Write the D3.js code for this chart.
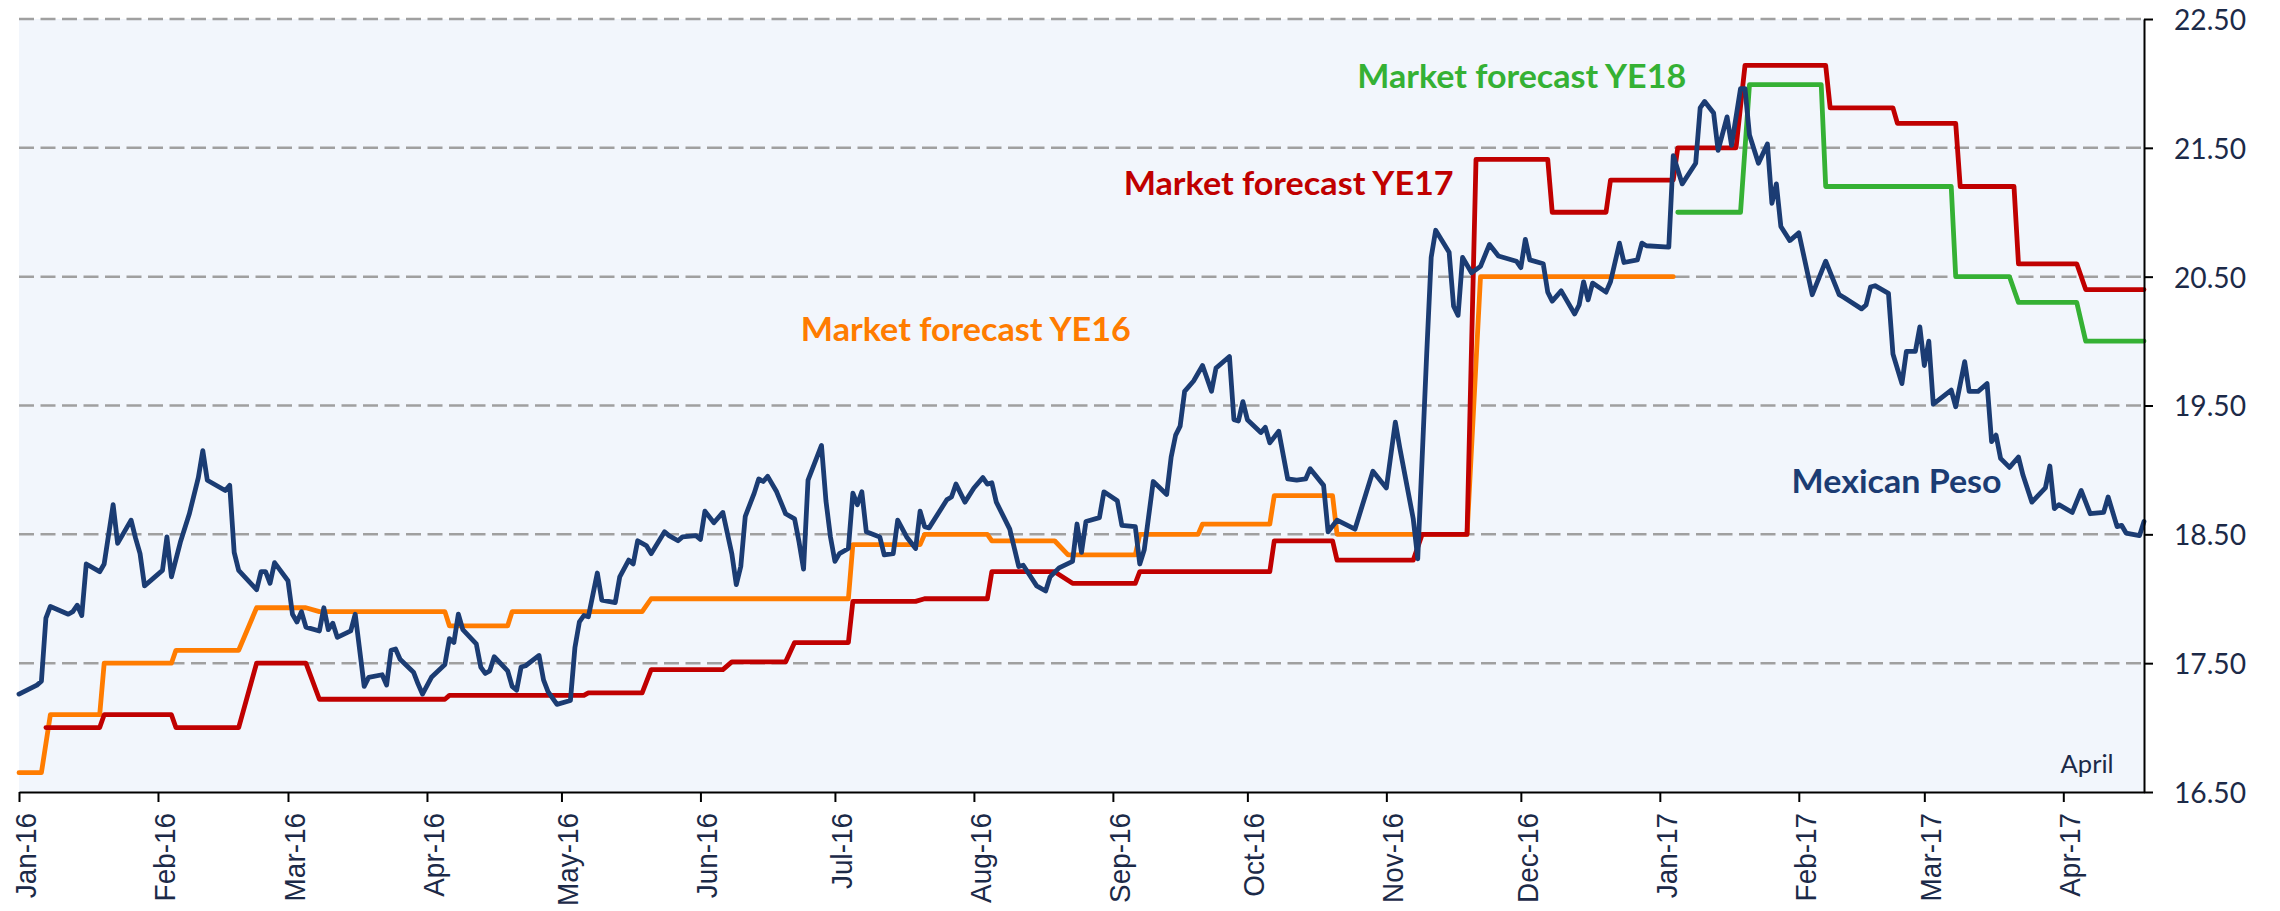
<!DOCTYPE html>
<html lang="en">
<head>
<meta charset="utf-8">
<title>Mexican Peso and market forecasts</title>
<script src="https://cdn.jsdelivr.net/npm/d3@7"></script>
<style>
  body { margin: 0; background: #fff; }
  svg { display: block; }
</style>
</head>
<body>
<script>
// every series is [day since 1 Jan 2016, MXN per USD]
var peso = [[0,17.26],[4,17.33],[5,17.36],[6,17.85],[7,17.94],[11,17.88],[12,17.90],[13,17.95],[14,17.87],[15,18.27],[18,18.21],[19,18.27],[21,18.73],[22,18.43],[25,18.61],[26,18.47],[27,18.35],[28,18.10],[32,18.22],[33,18.48],[34,18.17],[36,18.44],[38,18.66],[40,18.94],[41,19.15],[42,18.92],[46,18.84],[47,18.88],[48,18.36],[49,18.22],[53,18.07],[54,18.21],[55,18.21],[56,18.12],[57,18.28],[60,18.14],[61,17.88],[62,17.82],[63,17.90],[64,17.78],[67,17.75],[68,17.93],[69,17.76],[70,17.81],[71,17.70],[74,17.75],[75,17.88],[77,17.32],[78,17.39],[81,17.41],[82,17.33],[83,17.60],[84,17.61],[85,17.53],[88,17.43],[89,17.34],[90,17.26],[92,17.39],[95,17.49],[96,17.69],[97,17.66],[98,17.88],[99,17.76],[102,17.65],[103,17.47],[104,17.42],[105,17.44],[106,17.55],[109,17.44],[110,17.32],[111,17.29],[112,17.47],[113,17.48],[116,17.56],[117,17.37],[118,17.28],[120,17.18],[123,17.21],[124,17.62],[125,17.82],[126,17.87],[127,17.86],[129,18.20],[130,17.99],[133,17.97],[134,18.17],[136,18.30],[137,18.27],[138,18.45],[140,18.41],[141,18.35],[144,18.52],[145,18.49],[147,18.45],[148,18.48],[151,18.49],[152,18.46],[153,18.68],[155,18.59],[157,18.67],[159,18.35],[160,18.11],[161,18.25],[162,18.64],[164,18.82],[165,18.93],[166,18.91],[167,18.95],[169,18.83],[171,18.66],[173,18.62],[174,18.44],[175,18.23],[176,18.92],[179,19.19],[180,18.76],[181,18.48],[182,18.29],[183,18.35],[185,18.39],[186,18.82],[187,18.73],[188,18.83],[189,18.52],[192,18.48],[193,18.34],[195,18.35],[196,18.61],[198,18.48],[200,18.39],[201,18.68],[202,18.56],[203,18.55],[207,18.77],[208,18.79],[209,18.89],[211,18.75],[213,18.86],[215,18.94],[216,18.89],[217,18.90],[218,18.75],[221,18.54],[223,18.25],[224,18.26],[227,18.10],[229,18.06],[230,18.17],[232,18.24],[235,18.29],[236,18.58],[237,18.36],[238,18.60],[241,18.63],[242,18.83],[245,18.76],[246,18.57],[249,18.56],[250,18.27],[251,18.38],[253,18.91],[256,18.81],[257,19.10],[258,19.27],[259,19.34],[260,19.61],[262,19.69],[264,19.81],[266,19.61],[267,19.79],[270,19.88],[271,19.39],[272,19.38],[273,19.53],[274,19.39],[277,19.29],[278,19.33],[279,19.21],[281,19.30],[283,18.93],[285,18.92],[287,18.93],[288,19.01],[291,18.88],[292,18.52],[294,18.61],[298,18.54],[302,18.99],[305,18.86],[307,19.37],[308,19.17],[311,18.62],[312,18.31],[314,19.90],[315,20.65],[316,20.86],[319,20.69],[320,20.27],[321,20.20],[322,20.65],[324,20.53],[326,20.58],[328,20.75],[330,20.66],[334,20.62],[335,20.57],[336,20.79],[337,20.63],[340,20.60],[341,20.38],[342,20.31],[344,20.39],[347,20.21],[348,20.28],[349,20.46],[350,20.32],[351,20.45],[354,20.38],[355,20.46],[357,20.76],[358,20.61],[361,20.63],[362,20.76],[363,20.74],[368,20.73],[369,21.44],[371,21.22],[374,21.38],[375,21.81],[376,21.86],[378,21.77],[379,21.48],[381,21.74],[382,21.52],[384,21.96],[385,21.96],[386,21.60],[388,21.38],[390,21.53],[391,21.07],[392,21.22],[393,20.89],[395,20.78],[397,20.84],[400,20.36],[403,20.62],[406,20.36],[407,20.34],[411,20.25],[412,20.28],[413,20.42],[414,20.43],[417,20.37],[418,19.90],[420,19.67],[421,19.92],[423,19.92],[424,20.11],[425,19.81],[426,20.00],[427,19.51],[431,19.62],[432,19.49],[434,19.84],[435,19.61],[437,19.61],[439,19.67],[440,19.22],[441,19.27],[442,19.09],[444,19.02],[446,19.10],[447,18.96],[449,18.75],[452,18.86],[453,19.03],[454,18.70],[455,18.73],[458,18.67],[460,18.84],[462,18.66],[465,18.67],[466,18.79],[468,18.56],[469,18.57],[470,18.51],[473,18.49],[474,18.60]];

var forecastYE16 = [[0,16.65],[5,16.65],[7,17.10],[18,17.10],[19,17.50],[34,17.50],[35,17.60],[49,17.60],[53,17.93],[64,17.93],[67,17.90],[95,17.90],[96,17.79],[109,17.79],[110,17.90],[139,17.90],[141,18.00],[185,18.00],[186,18.42],[201,18.42],[202,18.50],[216,18.50],[217,18.45],[231,18.45],[234,18.34],[249,18.34],[250,18.50],[263,18.50],[264,18.58],[279,18.58],[280,18.80],[293,18.80],[294,18.50],[323,18.50],[326,20.50],[369,20.50]];

var forecastYE17 = [[6,17.00],[18,17.00],[19,17.10],[34,17.10],[35,17.00],[49,17.00],[53,17.50],[64,17.50],[67,17.22],[95,17.22],[96,17.25],[126,17.25],[127,17.27],[139,17.27],[141,17.45],[157,17.45],[159,17.51],[171,17.51],[173,17.66],[185,17.66],[186,17.98],[200,17.98],[202,18.00],[216,18.00],[217,18.21],[231,18.21],[235,18.12],[249,18.12],[250,18.21],[279,18.21],[280,18.45],[293,18.45],[294,18.30],[311,18.30],[313,18.50],[323,18.50],[325,21.41],[341,21.41],[342,21.00],[354,21.00],[355,21.25],[369,21.25],[370,21.50],[383,21.50],[385,22.14],[403,22.14],[404,21.81],[418,21.81],[419,21.69],[432,21.69],[433,21.20],[445,21.20],[446,20.60],[459,20.60],[461,20.40],[474,20.40]];

var forecastYE18 = [[370,21.00],[384,21.00],[386,21.99],[402,21.99],[403,21.20],[431,21.20],[432,20.50],[444,20.50],[446,20.30],[459,20.30],[461,20.00],[474,20.00]];

var yTicks = [16.5, 17.5, 18.5, 19.5, 20.5, 21.5, 22.5];
var lastDay = 474;

// annotations: text, anchor day, anchor value (baseline)
var labelTexts = ["Market forecast YE16", "Market forecast YE17", "Market forecast YE18", "Mexican Peso", "April"];
var labelDays = [174.4, 246.4, 298.5, 395.4, 455.4];
var labelValues = [20.0, 21.134, 21.962, 18.818, 16.645];

var W = 2280, H = 911;
var plot = {left: 19, right: 2144, top: 19, bottom: 792};

var navy = "#1b3c73", red = "#c00000", orange = "#ff7c00", green = "#35b134";
var inkText = "#1c2a48";

var t0 = Date.UTC(2016, 0, 1);
function dayToDate(d) { return new Date(t0 + d * 864e5); }

var x = d3.scaleUtc()
  .domain([dayToDate(0), dayToDate(lastDay)])
  .range([plot.left, plot.right]);

var y = d3.scaleLinear()
  .domain([16.5, 22.5])
  .range([plot.bottom, plot.top]);

var svg = d3.select("body").append("svg")
  .attr("width", W)
  .attr("height", H);

// plot background
svg.append("rect")
  .attr("x", plot.left)
  .attr("y", plot.top)
  .attr("width", plot.right - plot.left)
  .attr("height", plot.bottom - plot.top)
  .attr("fill", "#f2f6fc");

// dashed gridlines
svg.append("g").selectAll("line")
  .data(yTicks.filter(function(v) { return v > 16.5; }))
  .enter().append("line")
  .attr("x1", plot.left)
  .attr("x2", plot.right)
  .attr("y1", function(d) { return y(d); })
  .attr("y2", function(d) { return y(d); })
  .attr("stroke", "#a0a0a0")
  .attr("stroke-width", 2.5)
  .attr("stroke-dasharray", "15,6.5");

var line = d3.line()
  .x(function(d) { return x(dayToDate(d[0])); })
  .y(function(d) { return y(d[1]); });

var series = [
  {data: forecastYE16, color: orange},
  {data: forecastYE17, color: red},
  {data: forecastYE18, color: green},
  {data: peso, color: navy}
];

svg.append("g").selectAll("path")
  .data(series)
  .enter().append("path")
  .attr("d", function(s) { return line(s.data); })
  .attr("fill", "none")
  .attr("stroke", function(s) { return s.color; })
  .attr("stroke-width", 4.8)
  .attr("stroke-linejoin", "round")
  .attr("stroke-linecap", "round");

// bottom axis with rotated month labels
var xAxis = d3.axisBottom(x)
  .ticks(d3.utcMonth.every(1))
  .tickFormat(d3.utcFormat("%b-%y"))
  .tickSize(10)
  .tickSizeOuter(0);

var gx = svg.append("g")
  .attr("transform", "translate(0," + plot.bottom + ")")
  .call(xAxis);
gx.select(".domain").attr("stroke", "#000").attr("stroke-width", 2);
gx.selectAll(".tick line").attr("stroke", "#000").attr("stroke-width", 2);
gx.selectAll(".tick text")
  .attr("transform", "rotate(-90)")
  .attr("text-anchor", "end")
  .attr("x", -21)
  .attr("y", 0)
  .attr("dy", "0.55em")
  .attr("fill", inkText)
  .style("font-family", "'Liberation Sans', Arial, sans-serif")
  .style("font-size", "30px")
  .each(function() {
    // the source labels are a little narrower along their length
    var len = this.getComputedTextLength();
    d3.select(this).attr("textLength", len * 0.93).attr("lengthAdjust", "spacingAndGlyphs");
  });

// right value axis
var yAxis = d3.axisRight(y)
  .tickValues(yTicks)
  .tickFormat(d3.format(".2f"))
  .tickSize(9)
  .tickSizeOuter(0)
  .tickPadding(21);

var gy = svg.append("g")
  .attr("transform", "translate(" + plot.right + ",0)")
  .call(yAxis);
gy.select(".domain").attr("stroke", "#000").attr("stroke-width", 2);
gy.selectAll(".tick line").attr("stroke", "#000").attr("stroke-width", 2);
gy.selectAll(".tick text")
  .attr("dy", "0.36em")
  .attr("fill", inkText)
  .attr("textLength", 72)
  .attr("lengthAdjust", "spacingAndGlyphs")
  .style("font-family", "Lato, 'Noto Sans', sans-serif")
  .style("font-size", "29px");

// series labels
var labelColors = [orange, red, green, navy, inkText];
var labelSizes = [33, 33, 33, 32, 25];
var labelWidths = [330, 330, 329, 210, 53];

svg.append("g").selectAll("text")
  .data(labelTexts)
  .enter().append("text")
  .attr("x", function(d, i) { return x(dayToDate(labelDays[i])); })
  .attr("y", function(d, i) { return y(labelValues[i]); })
  .attr("fill", function(d, i) { return labelColors[i]; })
  .attr("textLength", function(d, i) { return labelWidths[i]; })
  .attr("lengthAdjust", "spacingAndGlyphs")
  .style("font-family", "Lato, 'Noto Sans', sans-serif")
  .style("font-weight", function(d, i) { return i < 4 ? 700 : 400; })
  .style("font-size", function(d, i) { return labelSizes[i] + "px"; })
  .text(function(d) { return d; });
</script>
</body>
</html>
